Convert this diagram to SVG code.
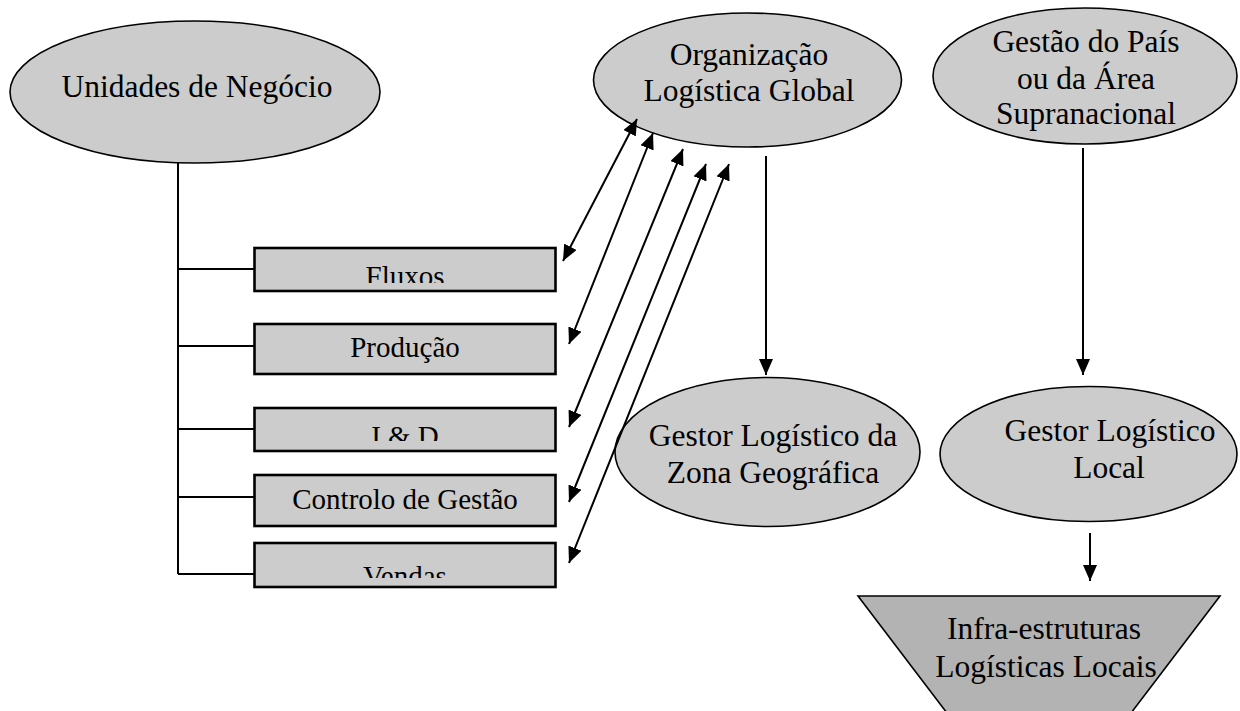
<svg xmlns="http://www.w3.org/2000/svg" width="1240" height="711" viewBox="0 0 1240 711">
<style>
.ell{fill:#cccccc;stroke:#000;stroke-width:1.6}
.box{fill:#cccccc;stroke:#000;stroke-width:2.6}
.trap{fill:#b3b3b3;stroke:#000;stroke-width:1.6}
.t{font-family:"Liberation Serif","Times New Roman",serif;font-size:31.5px;fill:#000;text-anchor:middle}
.tb{font-family:"Liberation Serif","Times New Roman",serif;font-size:29px;fill:#000;text-anchor:middle}
.ln{fill:none;stroke:#000;stroke-width:2}
.ar{fill:none;stroke:#000;stroke-width:2;marker-end:url(#ah)}
.dar{fill:none;stroke:#000;stroke-width:2;marker-end:url(#ah);marker-start:url(#ah)}
</style>
<defs>
<marker id="ah" markerUnits="userSpaceOnUse" markerWidth="17" markerHeight="14" refX="16" refY="7" orient="auto-start-reverse">
<path d="M0,0 L16,7 L0,14 z" fill="#000"/>
</marker>
<clipPath id="cFluxos"><rect x="254" y="248" width="302" height="35"/></clipPath>
<clipPath id="cID"><rect x="254" y="408" width="302" height="33"/></clipPath>
<clipPath id="cVendas"><rect x="254" y="543" width="302" height="35"/></clipPath>
</defs>

<g id="unidades">
<ellipse class="ell" cx="195" cy="92" rx="185" ry="71"/>
<text class="t" x="197" y="97">Unidades de Negócio</text>
</g>

<g id="organizacao">
<ellipse class="ell" cx="747.5" cy="80" rx="154" ry="67"/>
<text class="t" x="749" y="65">Organização</text>
<text class="t" x="749" y="101">Logística Global</text>
</g>

<g id="gestao-pais">
<ellipse class="ell" cx="1085" cy="76" rx="152" ry="68"/>
<text class="t" x="1086" y="52">Gestão do País</text>
<text class="t" x="1086" y="89">ou da Área</text>
<text class="t" x="1086" y="124">Supranacional</text>
</g>

<g id="fluxos">
<rect class="box" x="254.5" y="248" width="301" height="43"/>
<text class="tb" x="405" y="286" clip-path="url(#cFluxos)">Fluxos</text>
</g>

<g id="producao">
<rect class="box" x="254.5" y="324" width="301" height="50"/>
<text class="tb" x="405" y="357">Produção</text>
</g>

<g id="id">
<rect class="box" x="254.5" y="408" width="301" height="43"/>
<text class="tb" x="405" y="446" clip-path="url(#cID)">I &amp; D</text>
</g>

<g id="controlo">
<rect class="box" x="254.5" y="475" width="301" height="51"/>
<text class="tb" x="405" y="509">Controlo de Gestão</text>
</g>

<g id="vendas">
<rect class="box" x="254.5" y="543" width="301" height="44"/>
<text class="tb" x="405" y="586" clip-path="url(#cVendas)">Vendas</text>
</g>

<g id="gestor-zona">
<ellipse class="ell" cx="767.5" cy="452" rx="152.5" ry="74.5"/>
<text class="t" x="773" y="446">Gestor Logístico da</text>
<text class="t" x="773" y="483">Zona Geográfica</text>
</g>

<g id="gestor-local">
<ellipse class="ell" cx="1088.5" cy="454" rx="148.5" ry="67.5"/>
<text class="t" x="1110" y="441">Gestor Logístico</text>
<text class="t" x="1109" y="478">Local</text>
</g>

<g id="infra">
<polygon class="trap" points="858,596 1220,596 1128,717 950,717"/>
<text class="t" x="1044" y="639">Infra-estruturas</text>
<text class="t" x="1046" y="677">Logísticas Locais</text>
</g>

<g id="connectors">
<path class="ln" d="M178,163 V574 M178,269 H254 M178,346 H254 M178,429 H254 M178,497 H254 M178,574 H254"/>
<path class="dar" d="M563,261 L637,119"/>
<path class="dar" d="M569,344 L653,133"/>
<path class="dar" d="M569,427 L683,149"/>
<path class="dar" d="M569,502 L706,164"/>
<path class="dar" d="M569,563 L729,164"/>
<path class="ar" d="M766,156 V375"/>
<path class="ar" d="M1083,148 V375"/>
<path class="ar" d="M1090,533 V581"/>
</g>
</svg>
